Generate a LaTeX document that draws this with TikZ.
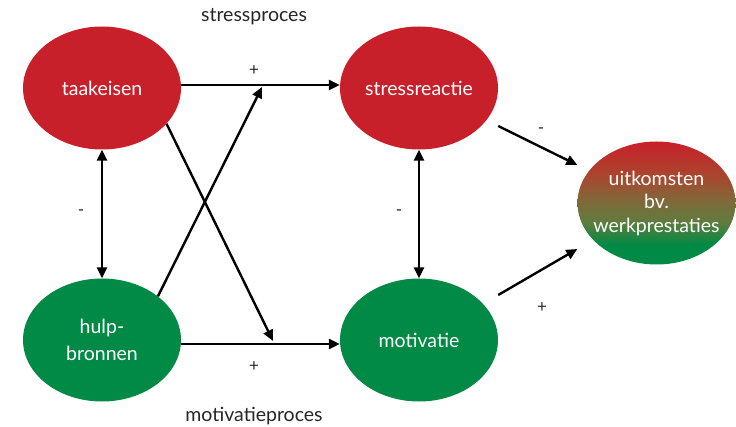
\documentclass[tikz,border=0pt]{standalone}
\usepackage{fontspec}
\setmainfont{Lato}
\usetikzlibrary{arrows.meta,shapes.geometric}
\definecolor{dred}{HTML}{C8202A}
\definecolor{dgreen}{HTML}{008A45}
\definecolor{gA}{HTML}{5E7C3E}
\definecolor{gB}{HTML}{80693A}
\definecolor{gC}{HTML}{A9462E}
\pgfdeclareverticalshading{redgreen}{100bp}{color(0bp)=(dgreen); color(33bp)=(dgreen); color(42bp)=(gA); color(51bp)=(gB); color(61bp)=(gC); color(75bp)=(dred); color(100bp)=(dred)}
\tikzset{
  blob/.style={ellipse, minimum width=158pt, minimum height=123pt, inner sep=0pt, text=white, font=\fontsize{19.5}{23.5}\selectfont, align=center},
  redblob/.style={blob, fill=dred},
  greenblob/.style={blob, fill=dgreen},
  arr/.style={line width=2.4pt, -{Triangle[length=11pt,width=10pt]}},
  darr/.style={line width=2.4pt, {Triangle[length=11pt,width=10pt]}-{Triangle[length=11pt,width=10pt]}},
  lab/.style={font=\fontsize{19.5}{22}\selectfont, text=black!85},
  sign/.style={font=\fontsize{17}{20}\selectfont, text=black!85}
}
\begin{document}
\begin{tikzpicture}[x=1pt,y=-1pt]
\useasboundingbox (0,0) rectangle (736,427);
\node[redblob] (taak) at (102,88) {taakeisen};
\node[redblob] (stress) at (419,88) {stressreactie};
\node[greenblob, font=\fontsize{19.5}{27}\selectfont] (hulp) at (102,340) {hulp-\\bronnen};
\node[greenblob] (motiv) at (419,340) {motivatie};
\node[blob, shading=redgreen, label={[text=white, font=\fontsize{19.5}{23.5}\selectfont, align=center]center:uitkomsten\\bv.\\werkprestaties}] (uit) at (656.5,203) {};
\node[lab] (sp) at (254,17) {stressproces};
\node[lab] (mp) at (254,416) {motivatieproces};
\coordinate (c1) at (273,341);
\coordinate (c2) at (262,87);
\draw[arr] ([yshift=3pt]taak.east) -- ([yshift=3pt]stress.west);
\draw[arr] ([yshift=-4pt]hulp.east) -- ([yshift=-4pt]motiv.west);
\draw[darr] (taak.south) -- (hulp.north);
\draw[darr] (stress.south) -- (motiv.north);
\draw[arr] (taak.-29.4) -- (c1);
\draw[arr] (hulp.38.7) -- (c2);
\draw[arr] ([yshift=-38pt]stress.east) -- ([yshift=38pt]uit.west);
\draw[arr] ([yshift=45pt]motiv.east) -- ([yshift=-46pt]uit.west);
\node[sign] (s1) at (254,71) {+};
\node[sign] (s2) at (254,367) {+};
\node[sign] (s3) at (81,213) {-};
\node[sign] (s4) at (399,213) {-};
\node[sign] (s5) at (541,131) {-};
\node[sign] (s6) at (542,308) {+};
\end{tikzpicture}
\end{document}
